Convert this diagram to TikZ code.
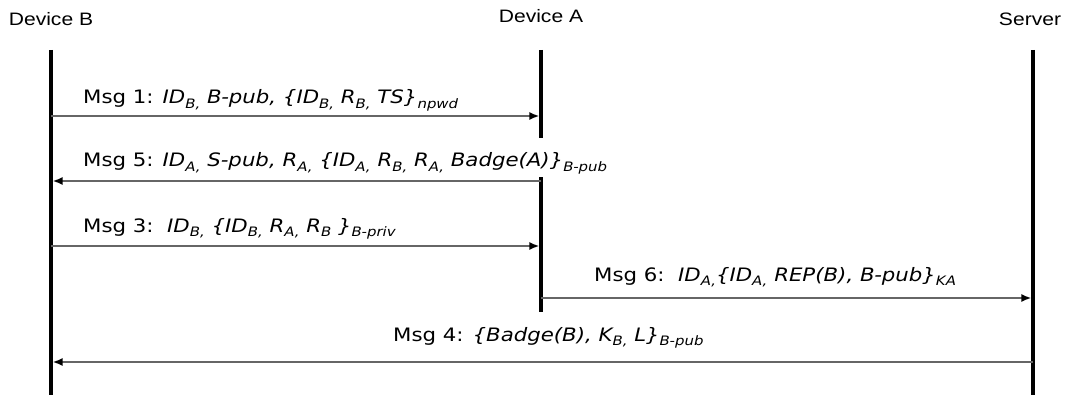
\documentclass[tikz,border=0pt]{standalone}
\usepackage{fontspec}
\setmainfont[FakeStretch=1.15]{DejaVu Sans}
\newfontfamily\hdrfont[FakeStretch=1.17]{Liberation Sans}
\usetikzlibrary{arrows.meta}
\newcommand\lo[1]{\raisebox{-0.4ex}{\fontsize{13}{13}\selectfont #1}}
\tikzset{
  life/.style={line width=3.5pt, black},
  msgarrow/.style={line width=1.8pt, draw=black!60, -{Latex[length=10pt,width=8pt,color=black]}, shorten >=1.6pt},
  hdr/.style={font=\hdrfont\fontsize{18}{18}\selectfont, inner sep=0},
  lbl/.style={font=\fontsize{18.5}{18.5}\selectfont, anchor=base west, inner xsep=0, inner ysep=0, text height=29pt, text depth=10pt, fill=white}
}
\begin{document}
\begin{tikzpicture}[x=1pt,y=-1pt]
\useasboundingbox (0,0) rectangle (1066,401);
% headers
\node[hdr] (hB) at (51,19) {Device B};
\node[hdr] (hA) at (541,16) {Device A};
\node[hdr] (hS) at (1030,19) {Server};
% lifelines
\coordinate (Bt) at (51,50);  \coordinate (Bb) at (51,395);
\coordinate (At) at (541,50); \coordinate (Ab) at (541,313);
\coordinate (St) at (1033,50); \coordinate (Sb) at (1033,395);
\draw[life] (Bt) -- (Bb);
\draw[life] (At) -- (Ab);
\draw[life] (St) -- (Sb);
% labels (white boxes hide the lifeline behind them)
\node[lbl] (m1) at (83,104) {Msg 1: \textit{ID\lo{B,} B-pub, \{ID\lo{B,} R\lo{B,} TS\}\lo{npwd}}};
\node[lbl] (m5) at (83,167) {Msg 5: \textit{ID\lo{A,} S-pub, R\lo{A,} \{ID\lo{A,} R\lo{B,} R\lo{A,} Badge(A)\}\lo{B-pub}}};
\node[lbl] (m3) at (83,232) {Msg 3:\ \ \textit{ID\lo{B,} \{ID\lo{B,} R\lo{A,} R\lo{B} \}\lo{B-priv}}};
\node[lbl] (m6) at (594,281) {Msg 6:\ \ \textit{ID\lo{A,}\{ID\lo{A,} REP(B), B-pub\}\lo{KA}}};
\node[lbl] (m4) at (393,341) {Msg 4: \textit{\{Badge(B), K\lo{B,} L\}\lo{B-pub}}};
% message end points
\coordinate (B1) at (51,116);  \coordinate (A1) at (541,116);
\coordinate (A5) at (541,181); \coordinate (B5) at (51,181);
\coordinate (B3) at (51,246);  \coordinate (A3) at (541,246);
\coordinate (A6) at (541,298); \coordinate (S6) at (1033,298);
\coordinate (S4) at (1033,362); \coordinate (B4) at (51,362);
\draw[msgarrow] (B1) -- (A1);
\draw[msgarrow] (A5) -- (B5);
\draw[msgarrow] (B3) -- (A3);
\draw[msgarrow] (A6) -- (S6);
\draw[msgarrow] (S4) -- (B4);
\end{tikzpicture}
\end{document}
